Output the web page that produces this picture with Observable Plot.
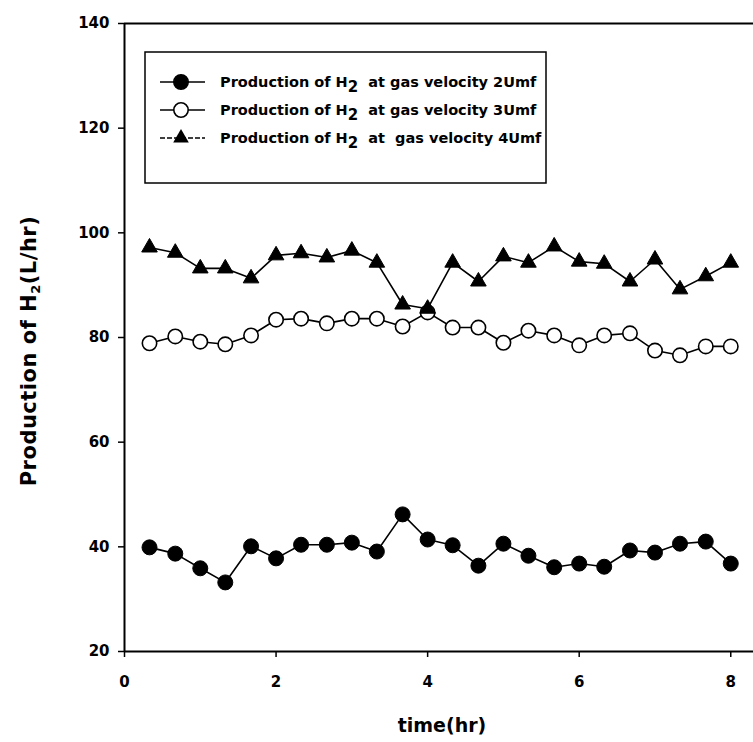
<!DOCTYPE html>
<html>
<head>
<meta charset="utf-8">
<script src="https://cdn.jsdelivr.net/npm/d3@7"></script>
<script src="https://cdn.jsdelivr.net/npm/@observablehq/plot@0.6"></script>
<style>
  html, body { margin: 0; padding: 0; background: #fff; }
  #chart { width: 753px; height: 742px; }
</style>
</head>
<body>
<div id="chart"></div>
<script>
// time (hr)
const times = [0.33, 0.67, 1.0, 1.33, 1.67, 2.0, 2.33, 2.67, 3.0, 3.33, 3.67, 4.0,
               4.33, 4.67, 5.0, 5.33, 5.67, 6.0, 6.33, 6.67, 7.0, 7.33, 7.67, 8.0];
// Production of H2 (L/hr)
const u2 = [39.9, 38.7, 35.9, 33.2, 40.1, 37.8, 40.4, 40.4, 40.8, 39.1, 46.2, 41.4,
            40.3, 36.4, 40.6, 38.3, 36.1, 36.8, 36.2, 39.3, 38.9, 40.6, 41.0, 36.8];
const u3 = [78.9, 80.2, 79.2, 78.7, 80.4, 83.4, 83.6, 82.7, 83.6, 83.6, 82.1, 84.8,
            81.9, 81.9, 79.0, 81.3, 80.4, 78.5, 80.4, 80.8, 77.5, 76.6, 78.3, 78.3];
const u4 = [97.2, 96.2, 93.2, 93.2, 91.3, 95.7, 96.1, 95.3, 96.6, 94.3, 86.3, 85.5,
            94.3, 90.7, 95.5, 94.3, 97.4, 94.5, 94.1, 90.7, 94.9, 89.2, 91.7, 94.3];
const seriesNames = ["2Umf", "3Umf", "4Umf"];
const xTicks = [0, 2, 4, 6, 8];
const yTicks = [20, 40, 60, 80, 100, 120, 140];

const rows = (vals, name) => times.map((t, i) => ({t, v: vals[i], s: name}));
const d2 = rows(u2, seriesNames[0]);
const d3u = rows(u3, seriesNames[1]);
const d4 = rows(u4, seriesNames[2]);

const FONT = "'DejaVu Sans', 'Liberation Sans', Arial, sans-serif";

const plot = Plot.plot({
  width: 753,
  height: 742,
  marginLeft: 124,
  marginRight: 0,
  marginTop: 23,
  marginBottom: 91,
  style: {fontFamily: FONT, fontWeight: "bold", fontSize: "15px", color: "#000", background: "#fff"},
  x: {domain: [0, 8.3]},
  y: {domain: [20, 140]},
  marks: [
    Plot.ruleY([20, 140], {stroke: "#000", strokeWidth: 2}),
    Plot.ruleX([0], {stroke: "#000", strokeWidth: 2}),
    Plot.axisX({ticks: xTicks, tickSize: 6, tickPadding: 19, label: null, tickFormat: d => d, strokeWidth: 1.5}),
    Plot.axisY({ticks: yTicks, tickSize: 6, tickPadding: 9, label: null, tickFormat: d => d, strokeWidth: 1.5}),
    Plot.line(d2, {x: "t", y: "v", stroke: "#000", strokeWidth: 1.6}),
    Plot.line(d3u, {x: "t", y: "v", stroke: "#000", strokeWidth: 1.6}),
    Plot.line(d4, {x: "t", y: "v", stroke: "#000", strokeWidth: 1.6}),
    Plot.dot(d2, {x: "t", y: "v", r: 7.5, fill: "#000", stroke: "#000", strokeWidth: 1}),
    Plot.dot(d3u, {x: "t", y: "v", r: 7.2, fill: "#fff", stroke: "#000", strokeWidth: 1.6}),
    Plot.dot(d4, {x: "t", y: "v", r: 5.8, symbol: "triangle", fill: "#000", stroke: "#000", strokeWidth: 1})
  ]
});

document.getElementById("chart").appendChild(plot);

const svg = d3.select(plot);

// Axis titles
const yl = svg.append("text")
  .attr("transform", "translate(36,351) rotate(-90)")
  .attr("text-anchor", "middle")
  .attr("font-family", FONT).attr("font-weight", "bold").attr("font-size", 21)
  .attr("letter-spacing", 0.5)
  .attr("fill", "#000");
yl.append("tspan").text("Production of H");
yl.append("tspan").attr("dy", 4).attr("font-size", 13).text("2");
yl.append("tspan").attr("dy", -4).text("(L/hr)");

svg.append("text")
  .attr("x", 442).attr("y", 732)
  .attr("text-anchor", "middle")
  .attr("font-family", FONT).attr("font-weight", "bold").attr("font-size", 19)
  .attr("fill", "#000")
  .text("time(hr)");

// Legend
const lg = svg.append("g").attr("text-anchor", "start");
lg.append("rect").attr("x", 145).attr("y", 52).attr("width", 401).attr("height", 131)
  .attr("fill", "#fff").attr("stroke", "#000").attr("stroke-width", 1.5);
const legendRows = [
  {name: seriesNames[0], gap: "\u00a0 at gas velocity ", sym: "fill"},
  {name: seriesNames[1], gap: "\u00a0 at gas velocity ", sym: "open"},
  {name: seriesNames[2], gap: "\u00a0 at\u00a0 gas velocity ", sym: "tri"}
];
legendRows.forEach((r, i) => {
  const cy = 82 + i * 28;
  lg.append("line").attr("x1", 160).attr("x2", 205).attr("y1", cy).attr("y2", cy)
    .attr("stroke", "#000").attr("stroke-width", 1.6)
    .attr("stroke-dasharray", r.sym === "tri" ? "5,2" : null);
  if (r.sym === "tri") {
    lg.append("path").attr("d", d3.symbol(d3.symbolTriangle, Math.PI * 5.8 * 5.8)())
      .attr("transform", `translate(181,${cy})`).attr("fill", "#000");
  } else {
    lg.append("circle").attr("cx", 181).attr("cy", cy).attr("r", 7.2)
      .attr("fill", r.sym === "fill" ? "#000" : "#fff").attr("stroke", "#000").attr("stroke-width", 1.6);
  }
  const t = lg.append("text").attr("x", 220).attr("y", cy + 5).attr("text-anchor", "start")
    .attr("font-family", FONT).attr("font-weight", "bold").attr("font-size", 14.5).attr("fill", "#000");
  t.append("tspan").text("Production of H");
  t.append("tspan").attr("dy", 5).attr("font-size", 15).text("2");
  t.append("tspan").attr("dy", -5).text(r.gap + r.name);
});
</script>
</body>
</html>
